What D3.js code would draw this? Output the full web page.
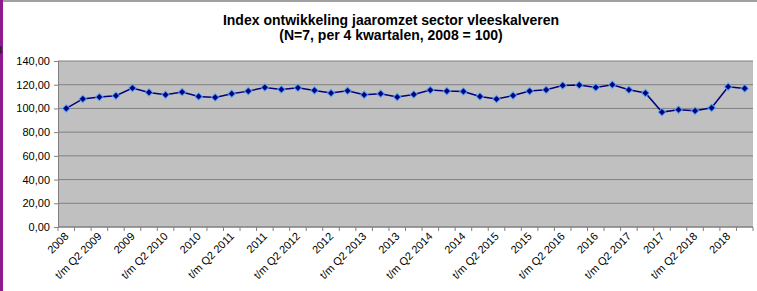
<!DOCTYPE html>
<html>
<head>
<meta charset="utf-8">
<script src="https://cdn.jsdelivr.net/npm/d3@7"></script>
<style>
  body { margin: 0; background: #fff; }
  svg { display: block; font-family: "Liberation Sans", Arial, sans-serif; }
</style>
</head>
<body>
<div id="chart"></div>
<script>
// Index jaaromzet vleeskalveren, per kwartaal (voortschrijdend 4 kwartalen)

var w = 757,
    h = 291;

var margin = {top: 61, right: 4, bottom: 64, left: 58};

var years = d3.range(2009, 2019);

// categories: 2008, t/m Q1 2009, t/m Q2 2009, t/m Q3 2009, 2009, ...
var categories = ["2008"];
years.forEach(function(y) {
  categories.push("t/m Q1 " + y, "t/m Q2 " + y, "t/m Q3 " + y, "" + y);
});
categories.push("t/m Q1 2019");

var values = [
  100.0, 108.0, 109.6, 110.7, 117.2, 113.5, 111.5, 113.8, 110.1, 109.3,
  112.4, 114.6, 117.7, 116.0, 117.4, 115.2, 113.0, 114.9, 111.5, 112.4,
  109.6, 111.8, 115.5, 114.6, 114.3, 110.1, 107.9, 110.9, 114.6, 115.7,
  119.4, 119.7, 117.7, 120.0, 115.7, 113.0, 96.9, 98.9, 98.0, 100.5,
  118.3, 116.9
];

var yTicks = [0, 20, 40, 60, 80, 100, 120, 140];

var titleLines = ["Index ontwikkeling jaaromzet sector vleeskalveren",
                  "(N=7, per 4 kwartalen, 2008 = 100)"];

var iw = w - margin.left - margin.right,
    ih = h - margin.top - margin.bottom;

var svg = d3.select("#chart")
            .append("svg")
            .attr("width", w)
            .attr("height", h);

// purple strip on the left + top frame line
svg.append("rect")
   .attr("x", 0).attr("y", 0)
   .attr("width", 3).attr("height", h)
   .attr("fill", "#8e1a8e");

svg.append("line")
   .attr("x1", 3).attr("x2", w)
   .attr("y1", 1).attr("y2", 1)
   .attr("stroke", "#a0a0a0")
   .attr("stroke-width", 2);

// leftover glyph at the very edge (cut off in the original too)
svg.append("text")
   .attr("x", -4).attr("y", 54)
   .attr("font-size", "11px")
   .attr("font-weight", "bold")
   .attr("fill", "#222")
   .text("3");

var title = svg.append("text")
   .attr("text-anchor", "middle")
   .attr("font-size", "14px")
   .attr("font-weight", "bold")
   .attr("fill", "#000");

title.selectAll("tspan")
   .data(titleLines)
   .enter()
   .append("tspan")
   .attr("x", 391)
   .attr("y", function(d, i) { return 25 + i * 15; })
   .text(function(d) { return d; });

var g = svg.append("g")
           .attr("transform", "translate(" + margin.left + "," + margin.top + ")");

var x = d3.scaleBand()
          .domain(categories)
          .range([0, iw]);

var y = d3.scaleLinear()
          .domain([0, 140])
          .range([ih, 0]);

g.append("rect")
 .attr("width", iw)
 .attr("height", ih)
 .attr("fill", "#c0c0c0");

// gridlines
g.selectAll(".grid")
 .data(yTicks)
 .enter()
 .append("line")
 .attr("class", "grid")
 .attr("x1", 0).attr("x2", iw)
 .attr("y1", function(d) { return y(d); })
 .attr("y2", function(d) { return y(d); })
 .attr("stroke", "#808080")
 .attr("stroke-width", 1);

// y axis
var yAxis = g.append("g")
   .call(d3.axisLeft(y)
           .tickValues(yTicks)
           .tickSize(4)
           .tickFormat(function(d) { return d3.format(".2f")(d).replace(".", ","); }));

yAxis.select(".domain").attr("stroke", "#808080");
yAxis.selectAll(".tick line").attr("stroke", "#808080");
yAxis.selectAll(".tick text")
     .attr("x", -8)
     .attr("font-size", "11px")
     .attr("font-family", "Liberation Sans, Arial, sans-serif")
     .attr("fill", "#000");

// x axis: ticks between categories, labels on every other category
var xAxis = g.append("g")
   .attr("transform", "translate(0," + ih + ")");

xAxis.append("line")
     .attr("x1", 0).attr("x2", iw)
     .attr("stroke", "#808080");

var bounds = d3.range(categories.length + 1);
xAxis.selectAll(".xt")
     .data(bounds)
     .enter()
     .append("line")
     .attr("x1", function(i) { return i * x.step(); })
     .attr("x2", function(i) { return i * x.step(); })
     .attr("y1", 0).attr("y2", 4)
     .attr("stroke", "#808080");

xAxis.selectAll(".xl")
     .data(categories.filter(function(d, i) { return i % 2 === 0; }))
     .enter()
     .append("text")
     .attr("transform", function(d) {
        return "translate(" + (x(d) + x.bandwidth() / 2 + 3) + ",10) rotate(-45)";
     })
     .attr("text-anchor", "end")
     .attr("font-size", "11px")
     .attr("fill", "#000")
     .text(function(d) { return d; });

// line + markers
var cx = function(d, i) { return x(categories[i]) + x.bandwidth() / 2; };

var line = d3.line()
             .x(cx)
             .y(function(d) { return y(d); });

g.append("path")
 .datum(values)
 .attr("d", line)
 .attr("fill", "none")
 .attr("stroke", "#000080")
 .attr("stroke-width", 1.5);

var r = 3.8;
var diamond = "M0," + (-r) + "L" + r + ",0L0," + r + "L" + (-r) + ",0Z";

g.selectAll(".pt")
 .data(values)
 .enter()
 .append("path")
 .attr("class", "pt")
 .attr("d", diamond)
 .attr("transform", function(d, i) { return "translate(" + cx(d, i) + "," + y(d) + ")"; })
 .attr("fill", "#000080")
 .attr("stroke", "#5fb4ff")
 .attr("stroke-opacity", 0.75)
 .attr("stroke-width", 1.2);
</script>
</body>
</html>
